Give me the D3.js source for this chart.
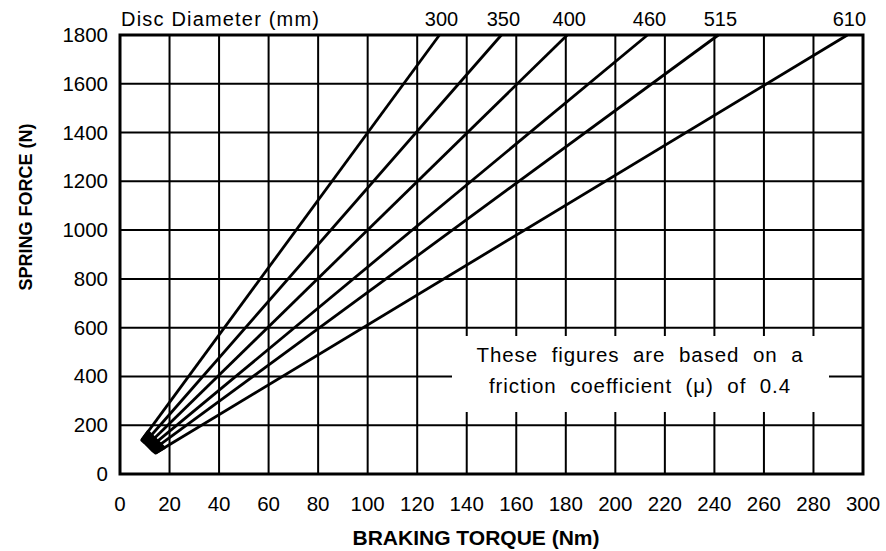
<!DOCTYPE html>
<html lang="en">
<head>
    <meta charset="UTF-8">
    <title>spring force vs braking torque</title>
    <script src="https://d3js.org/d3.v7.min.js"></script>
    <style>
        body { margin: 0; background: #fff; }
        text { font-family: "Liberation Sans", Arial, sans-serif; fill: #000; }
    </style>
</head>
<body>
    <svg></svg>
    <script>
        // disc diameters (mm) and where each line starts / ends (torque Nm, force N)
        const discs = [300, 350, 400, 460, 515, 610];
        const startTorque = [8.8, 10, 11, 12, 13, 14.4];
        const startForce = [139, 128, 118, 108, 97, 86];
        const endTorque = [129, 154, 180.6, 213, 241.6, 293.7];
        const endForce = [1800, 1800, 1800, 1800, 1800, 1800];

        const xTicks = d3.range(0, 301, 20);
        const yTicks = d3.range(0, 1801, 200);
        const note = ["These figures are based on a", "friction coefficient (\u03bc) of 0.4"];

        const svgWidth = 886;
        const svgHeight = 551;
        const plotLeft = 120, plotRight = 863, plotTop = 35, plotBottom = 474;

        const svg = d3.select('svg')
            .attr("width", svgWidth)
            .attr("height", svgHeight);

        const x = d3.scaleLinear().domain([0, 300]).range([plotLeft, plotRight]);
        const y = d3.scaleLinear().domain([0, 1800]).range([plotBottom, plotTop]);

        // grid
        svg.selectAll(".vgrid")
            .data(xTicks.slice(1, -1))
            .enter()
            .append("line")
            .attr("x1", d => x(d)).attr("x2", d => x(d))
            .attr("y1", plotTop).attr("y2", plotBottom)
            .attr("stroke", "#000").attr("stroke-width", 2);

        svg.selectAll(".hgrid")
            .data(yTicks.slice(1, -1))
            .enter()
            .append("line")
            .attr("x1", plotLeft).attr("x2", plotRight)
            .attr("y1", d => y(d)).attr("y2", d => y(d))
            .attr("stroke", "#000").attr("stroke-width", 2);

        // white panel for the note
        svg.append("rect")
            .attr("x", 452).attr("y", 336)
            .attr("width", 377).attr("height", 76)
            .attr("fill", "#fff");

        svg.selectAll(".note")
            .data(note)
            .enter()
            .append("text")
            .attr("x", 640)
            .attr("y", (d, i) => 362 + i * 31)
            .attr("text-anchor", "middle")
            .attr("font-size", 20.5)
            .attr("letter-spacing", 0.9)
            .attr("word-spacing", 7)
            .text(d => d);

        // frame
        svg.append("rect")
            .attr("x", plotLeft).attr("y", plotTop)
            .attr("width", plotRight - plotLeft).attr("height", plotBottom - plotTop)
            .attr("fill", "none")
            .attr("stroke", "#000").attr("stroke-width", 3);

        // disc lines
        const lines = discs.map((d, i) => ({
            disc: d,
            pts: [[startTorque[i], startForce[i]], [endTorque[i], endForce[i]]]
        }));

        const line = d3.line().x(p => x(p[0])).y(p => y(p[1]));

        svg.selectAll(".disc")
            .data(lines)
            .enter()
            .append("path")
            .attr("d", d => line(d.pts))
            .attr("fill", "none")
            .attr("stroke", "#000")
            .attr("stroke-width", 2.8);

        // the knot where the lines start: a small wedge between the outer lines
        const along = (l, t) => {
            const [a, b] = l.pts;
            return [t, a[1] + (b[1] - a[1]) * (t - a[0]) / (b[0] - a[0])];
        };
        const first = lines[0], last = lines[lines.length - 1];
        const knot = discs.map((d, i) => [startTorque[i], startForce[i]]).reverse();
        knot.unshift(along(last, last.pts[0][0] + 3.5));
        knot.push(along(first, first.pts[0][0] + 2.5));

        svg.append("path")
            .attr("d", line(knot) + "Z")
            .attr("fill", "#000")
            .attr("stroke", "#000")
            .attr("stroke-width", 3)
            .attr("stroke-linejoin", "round");

        // disc labels
        svg.selectAll(".disclabel")
            .data(lines)
            .enter()
            .append("text")
            .attr("x", d => Math.min(x(d.pts[1][0]) + 2, 858))
            .attr("y", 26)
            .attr("text-anchor", "middle")
            .attr("font-size", 20)
            .text(d => d.disc);

        svg.append("text")
            .attr("x", plotLeft + 1)
            .attr("y", 26)
            .attr("font-size", 20)
            .attr("textLength", 198)
            .text("Disc Diameter (mm)");

        // tick labels
        svg.selectAll(".xlab")
            .data(xTicks)
            .enter()
            .append("text")
            .attr("x", d => x(d))
            .attr("y", 511)
            .attr("text-anchor", "middle")
            .attr("font-size", 20.5)
            .text(d => d);

        svg.selectAll(".ylab")
            .data(yTicks)
            .enter()
            .append("text")
            .attr("x", 108)
            .attr("y", d => y(d) + 7)
            .attr("text-anchor", "end")
            .attr("font-size", 20.5)
            .text(d => d);

        // axis titles
        svg.append("text")
            .attr("x", 476)
            .attr("y", 545)
            .attr("text-anchor", "middle")
            .attr("font-size", 21)
            .attr("font-weight", "bold")
            .text("BRAKING TORQUE (Nm)");

        svg.append("text")
            .attr("transform", "translate(32,207) rotate(-90)")
            .attr("text-anchor", "middle")
            .attr("font-size", 18)
            .attr("font-weight", "bold")
            .text("SPRING FORCE (N)");
    </script>
</body>
</html>
